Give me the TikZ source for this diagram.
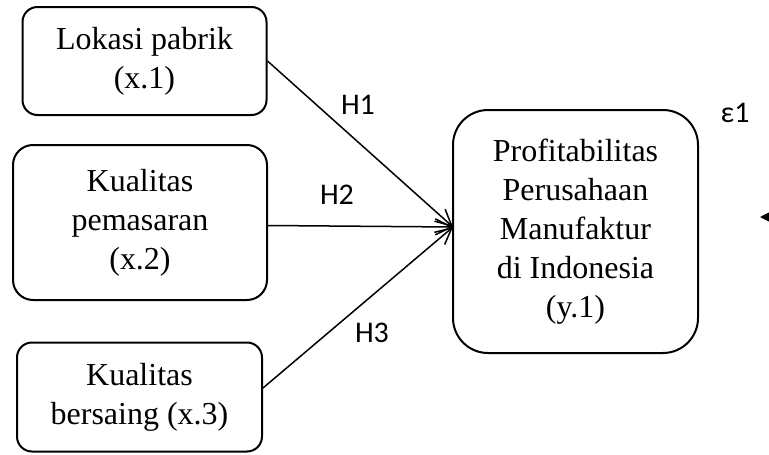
\documentclass[tikz,border=0pt]{standalone}
\usepackage{fontspec}
\setmainfont{Liberation Serif}
\newfontfamily\lblfont{Carlito}
\usetikzlibrary{arrows.meta}
\begin{document}
\begin{tikzpicture}[x=1pt,y=-1pt,
  box/.style={draw,line width=2pt,align=center,inner sep=0pt,
    font=\fontsize{32}{39}\selectfont},
  lbl/.style={font=\lblfont\fontsize{30}{34}\selectfont,inner sep=0pt},
  conn/.style={line width=1.5pt,-{Straight Barb[length=16pt,width=16pt,line width=1.5pt]}}]
\useasboundingbox (0,0) rectangle (769,455);
\clip (0,0) rectangle (769,455);
\node[box,rounded corners=15pt,minimum width=244pt,minimum height=108pt] (B1) at (144.5,61) {Lokasi pabrik\\(x.1)};
\node[box,rounded corners=20pt,minimum width=254pt,minimum height=155pt] (B2) at (140,222.5) {Kualitas\\pemasaran\\(x.2)};
\node[box,rounded corners=15pt,minimum width=245pt,minimum height=109pt] (B3) at (139.5,397) {Kualitas\\bersaing (x.3)};
\node[box,rounded corners=35pt,minimum width=245pt,minimum height=243pt] (R) at (575.5,231.5) {Profitabilitas\\Perusahaan\\Manufaktur\\di Indonesia\\(y.1)};
\coordinate (t) at (453,227);
\draw[conn] (B1.east) -- (t);
\draw[conn] ([yshift=-3pt]B2.east) -- (t);
\draw[conn] ([yshift=9pt]B3.east) -- (t);
\node[lbl] (h1) at (358,105) {H1};
\node[lbl] (h2) at (337,195) {H2};
\node[lbl] (h3) at (372,333) {H3};
\node[lbl] (e1) at (735,113) {ε1};
\coordinate (eo) at (800,217);
\coordinate (ei) at (760,217);
\draw[line width=1.5pt,-{Triangle[length=14pt,width=14pt]}] (eo) -- (ei);
\end{tikzpicture}
\end{document}
